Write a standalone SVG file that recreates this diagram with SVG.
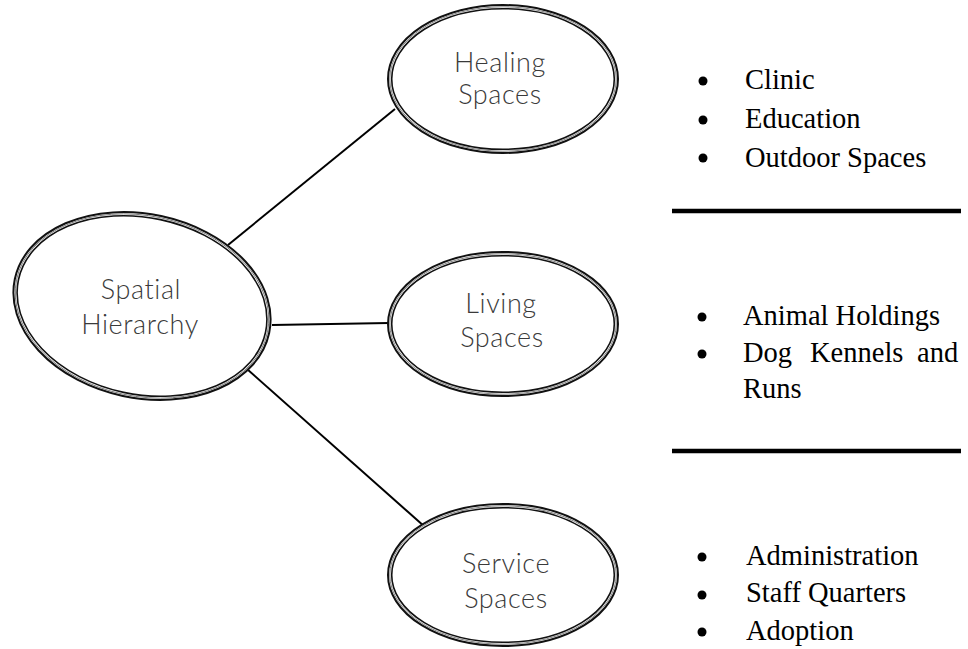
<svg xmlns="http://www.w3.org/2000/svg" width="968" height="649" viewBox="0 0 968 649">
<style>
.o{fill:#fff;stroke:#111;stroke-width:2}
.m{fill:none;stroke:#777;stroke-width:0.9}
.i{fill:none;stroke:#111;stroke-width:1.6}
.lbl{font-family:Lato,"Open Sans",sans-serif;font-weight:300;font-size:27px;fill:#3a3a3a;text-anchor:middle;letter-spacing:0.6px}
.li{font-family:"Liberation Serif","Times New Roman",serif;font-size:28.5px;fill:#000}
.conn{stroke:#000;stroke-width:2;fill:none}
.sep{stroke:#000;stroke-width:4.5}
</style>
<rect width="968" height="649" fill="#fff"/>
<g id="connectors">
<line class="conn" x1="228" y1="245" x2="395" y2="109"/>
<line class="conn" x1="272" y1="325" x2="389" y2="323"/>
<line class="conn" x1="247" y1="369" x2="425" y2="527"/>
</g>
<g id="spatial-hierarchy">
<g transform="rotate(12 142 306)">
<ellipse class="o" cx="142" cy="306" rx="130" ry="92"/>
<ellipse class="m" cx="142" cy="306" rx="128.2" ry="90.2"/>
<ellipse class="i" cx="142" cy="306" rx="126.3" ry="88.3"/>
</g>
<text class="lbl" x="141" y="299">Spatial</text>
<text class="lbl" x="140" y="334">Hierarchy</text>
</g>
<g id="healing-spaces">
<ellipse class="o" cx="503" cy="79" rx="115" ry="74"/>
<ellipse class="m" cx="503" cy="79" rx="113.2" ry="72.2"/>
<ellipse class="i" cx="503" cy="79" rx="111.3" ry="70.3"/>
<text class="lbl" x="500" y="72">Healing</text>
<text class="lbl" x="500" y="104">Spaces</text>
</g>
<g id="living-spaces">
<ellipse class="o" cx="503" cy="324" rx="115" ry="72"/>
<ellipse class="m" cx="503" cy="324" rx="113.2" ry="70.2"/>
<ellipse class="i" cx="503" cy="324" rx="111.3" ry="68.3"/>
<text class="lbl" x="501" y="313">Living</text>
<text class="lbl" x="502" y="347">Spaces</text>
</g>
<g id="service-spaces">
<ellipse class="o" cx="503" cy="575" rx="115" ry="71"/>
<ellipse class="m" cx="503" cy="575" rx="113.2" ry="69.2"/>
<ellipse class="i" cx="503" cy="575" rx="111.3" ry="67.3"/>
<text class="lbl" x="506" y="573">Service</text>
<text class="lbl" x="506" y="608">Spaces</text>
</g>
<g id="healing-list">
<circle cx="703" cy="81" r="4.5"/>
<circle cx="703" cy="120" r="4.5"/>
<circle cx="703" cy="158" r="4.5"/>
<text class="li" x="745" y="89">Clinic</text>
<text class="li" x="745" y="128">Education</text>
<text class="li" x="745" y="167">Outdoor Spaces</text>
</g>
<line class="sep" x1="672" y1="211" x2="961" y2="211"/>
<g id="living-list">
<circle cx="702" cy="317" r="4.5"/>
<circle cx="702" cy="354" r="4.5"/>
<text class="li" x="743" y="325">Animal Holdings</text>
<text class="li" x="743" y="362">Dog</text>
<text class="li" x="810" y="362">Kennels</text>
<text class="li" x="917" y="362">and</text>
<text class="li" x="743" y="398">Runs</text>
</g>
<line class="sep" x1="672" y1="451" x2="961" y2="451"/>
<g id="service-list">
<circle cx="702" cy="557" r="4.5"/>
<circle cx="702" cy="595" r="4.5"/>
<circle cx="702" cy="632" r="4.5"/>
<text class="li" x="746" y="565">Administration</text>
<text class="li" x="746" y="602">Staff Quarters</text>
<text class="li" x="746" y="640">Adoption</text>
</g>
</svg>
